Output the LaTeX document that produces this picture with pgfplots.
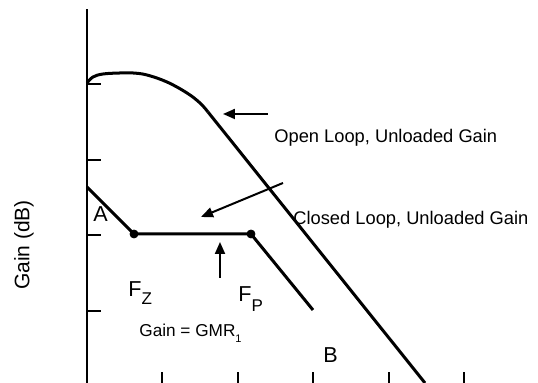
\documentclass[border=0pt]{standalone}
\usepackage{fontspec}
\setmainfont{Liberation Sans}
\usepackage{pgfplots}
\pgfplotsset{compat=1.18}
\usetikzlibrary{arrows.meta}

% one picture pixel = 0.5pt, y measured up from the bottom edge
\newcommand{\lab}{\fontsize{9.15pt}{11pt}\selectfont}
\newcommand{\biglab}{\fontsize{10.8pt}{13pt}\selectfont}
\newcommand{\sub}[2]{\raisebox{-#1}{\fontsize{8.5pt}{10pt}\selectfont #2}}

\begin{document}
\begin{tikzpicture}
\begin{axis}[
  x=0.5pt, y=0.5pt,
  xmin=87, xmax=538, ymin=0, ymax=374,
  axis lines=left,
  axis line style={-, line width=1pt},
  x axis line style={draw=none},
  tick align=inside,
  xtick={162,238,313,389,464},
  ytick={72,148,223,299},
  xticklabels={}, yticklabels={},
  major tick length=7pt,
  xtick style={/pgfplots/major tick length=5.5pt},
  tick style={line width=1pt, black},
  clip=false,
  scale only axis,
]
% open loop, unloaded gain
\addplot[line width=1.5pt, smooth, tension=0.6] coordinates {
  (87,300) (93,306) (103,309) (120,310) (133,310) (147,308)
  (167,301) (187,290) (200,280) (208,271)
};
\addplot[line width=1.5pt] coordinates {(208,271) (425,0)};
% closed loop, unloaded gain
\addplot[line width=1.5pt] coordinates {(87,196) (134,149) (251,149) (313,73)};
\addplot[only marks, mark=*, mark size=2pt] coordinates {(134,149) (251,149)};
% pointers
\addplot[line width=1pt, -{Triangle[length=6pt,width=5pt]}] coordinates {(268,269) (223,269)};
\addplot[line width=1pt, -{Triangle[length=6pt,width=5pt]}] coordinates {(283,200) (201,166)};
\addplot[line width=1pt, -{Triangle[length=6pt,width=5pt]}] coordinates {(220,105) (220,141)};

\node[anchor=base west, inner sep=0pt] at (axis cs:274,240) {\lab Open Loop, Unloaded Gain};
\node[anchor=base west, inner sep=0pt] at (axis cs:293,158) {\lab Closed Loop, Unloaded Gain};
\node[anchor=base west, inner sep=0pt] at (axis cs:93,161) {\biglab A};
\node[anchor=base west, inner sep=0pt] at (axis cs:323,20) {\biglab B};
\node[anchor=base west, inner sep=0pt] at (axis cs:128,86) {\biglab F\sub{4pt}{Z}};
\node[anchor=base west, inner sep=0pt] at (axis cs:238,81) {\biglab F\sub{5pt}{P}};
\node[anchor=base west, inner sep=0pt] at (axis cs:139,46) {\fontsize{8.6pt}{10pt}\selectfont Gain = GMR\raisebox{-3pt}{\fontsize{5.5pt}{6pt}\selectfont 1}};
\node[rotate=90, anchor=base, inner sep=0pt] at (axis cs:29.5,138) {\fontsize{10.5pt}{12pt}\selectfont Gain (dB)};

\coordinate (bl) at (axis cs:0,0);
\coordinate (tr) at (axis cs:538,383);
\end{axis}
\pgfresetboundingbox
\path (bl) rectangle (tr);
\end{tikzpicture}
\end{document}
